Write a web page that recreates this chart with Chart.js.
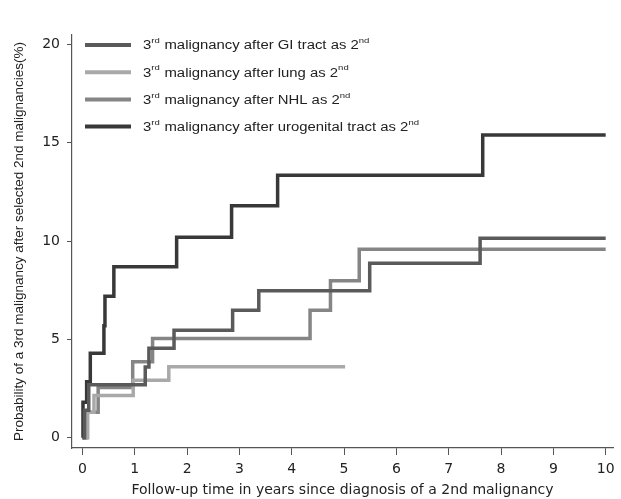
<!DOCTYPE html>
<html>
<head>
<meta charset="utf-8">
<script src="https://cdn.jsdelivr.net/npm/chart.js@4.4.1/dist/chart.umd.min.js"></script>
<style>
  html, body { margin: 0; padding: 0; background: #fff; }
  #wrap { width: 621px; height: 499px; }
</style>
</head>
<body>
<div id="wrap"><canvas id="cumInc"></canvas></div>
<script>
// cumulative incidence of a 3rd malignancy, step points (years, %)
const giTimes   = [0, 0.04, 0.12, 1.2, 1.27, 1.75, 2.87, 3.37, 5.49, 7.6, 10];
const giProb    = [0, 1.4, 2.7, 3.6, 4.55, 5.47, 6.49, 7.47, 8.87, 10.14, 10.14];

const lungTimes = [0.05, 0.1, 0.22, 0.97, 1.65, 5.02];
const lungProb  = [0, 1.3, 2.15, 2.93, 3.61, 3.61];

const nhlTimes  = [0.05, 0.08, 0.3, 0.96, 1.34, 4.35, 4.74, 5.29, 10];
const nhlProb   = [0, 1.3, 2.55, 3.86, 5.05, 6.49, 7.98, 9.58, 9.58];

const uroTimes  = [0, 0.01, 0.08, 0.15, 0.41, 0.43, 0.6, 1.8, 2.85, 3.73, 7.65, 10];
const uroProb   = [0, 1.8, 2.85, 4.3, 5.7, 7.2, 8.7, 10.2, 11.8, 13.35, 15.4, 15.4];

const xTicks = [0, 1, 2, 3, 4, 5, 6, 7, 8, 9, 10];
const yTicks = [0, 5, 10, 15, 20];

// legend text: [before sup, sup, middle, sup]
const legendNames = [
    ['3', 'rd', ' malignancy after GI tract as 2', 'nd'],
    ['3', 'rd', ' malignancy after lung as 2', 'nd'],
    ['3', 'rd', ' malignancy after NHL as 2', 'nd'],
    ['3', 'rd', ' malignancy after urogenital tract as 2', 'nd']
];
const lineColors = ['#5a5a5a', '#a9a9a9', '#858585', '#383838'];

function pairUp(xs, ys) {
    return xs.map((x, i) => ({ x: x, y: ys[i] }));
}

const FONT = '"Liberation Sans", Arial, sans-serif';
const WIDE = '"DejaVu Sans", sans-serif';

// legend with superscripts, drawn inside the plot at the top left
// (text is a bit stretched sideways like the original figure)
const stataLegend = {
    id: 'stataLegend',
    afterDraw(chart) {
        const ctx = chart.ctx;
        const x0 = 85, x1 = 131, tx = 143, stretch = 1.19;
        let y = 45;
        ctx.save();
        legendNames.forEach((parts, i) => {
            ctx.strokeStyle = lineColors[i];
            ctx.lineWidth = 4;
            ctx.beginPath();
            ctx.moveTo(x0, y);
            ctx.lineTo(x1, y);
            ctx.stroke();

            ctx.save();
            ctx.translate(tx, 0);
            ctx.scale(stretch, 1);
            ctx.fillStyle = '#222';
            ctx.textBaseline = 'middle';
            let x = 0;
            parts.forEach((p, j) => {
                const sup = j % 2 === 1;
                ctx.font = (sup ? '8px ' : '12.5px ') + FONT;
                ctx.fillText(p, x, sup ? y - 4 : y + 1);
                x += ctx.measureText(p).width + (sup ? 0.5 : 0);
            });
            ctx.restore();
            y += 27.2;
        });
        ctx.restore();
    }
};

const ctxCum = document.getElementById('cumInc').getContext('2d');
const stepChart = new Chart(ctxCum, {
    type: 'line',
    data: {
        datasets: [
            { label: 'GI tract', data: pairUp(giTimes, giProb), borderColor: lineColors[0] },
            { label: 'lung', data: pairUp(lungTimes, lungProb), borderColor: lineColors[1] },
            { label: 'NHL', data: pairUp(nhlTimes, nhlProb), borderColor: lineColors[2] },
            { label: 'urogenital tract', data: pairUp(uroTimes, uroProb), borderColor: lineColors[3] }
        ]
    },
    options: {
        responsive: true,
        maintainAspectRatio: false,
        animation: false,
        layout: { padding: { top: 35, right: 8 } },
        elements: {
            line: { stepped: 'before', borderWidth: 3.5, fill: false, borderCapStyle: 'butt' },
            point: { radius: 0 }
        },
        plugins: {
            legend: { display: false },
            tooltip: { enabled: false }
        },
        scales: {
            x: {
                type: 'linear',
                min: -0.2,
                max: 10.14,
                afterBuildTicks: (axis) => { axis.ticks = xTicks.map(v => ({ value: v })); },
                afterFit: (axis) => { axis.height = 51; },
                border: { display: true, color: '#555', width: 1.2 },
                grid: { display: true, drawOnChartArea: false, drawTicks: true, tickLength: 7, color: '#555' },
                ticks: { color: '#222', font: { family: WIDE, size: 14 }, padding: 6, maxRotation: 0 },
                title: {
                    display: true,
                    text: 'Follow-up time in years since diagnosis of a 2nd malignancy',
                    color: '#222',
                    font: { family: WIDE, size: 14 },
                    padding: { top: 3, bottom: 0 }
                }
            },
            y: {
                min: -0.52,
                max: 20.48,
                afterBuildTicks: (axis) => { axis.ticks = yTicks.map(v => ({ value: v })); },
                afterFit: (axis) => { axis.width = 72; },
                border: { display: true, color: '#555', width: 1.2 },
                grid: { display: true, drawOnChartArea: false, drawTicks: true, tickLength: 5, color: '#555' },
                ticks: { color: '#222', font: { family: WIDE, size: 14 }, padding: 7 },
                title: {
                    display: true,
                    text: 'Probability of a 3rd malignancy after selected 2nd malignancies(%)',
                    color: '#222',
                    font: { family: FONT, size: 13.5 },
                    padding: { top: 11, bottom: 0 }
                }
            }
        }
    },
    plugins: [stataLegend]
});
</script>
</body>
</html>
